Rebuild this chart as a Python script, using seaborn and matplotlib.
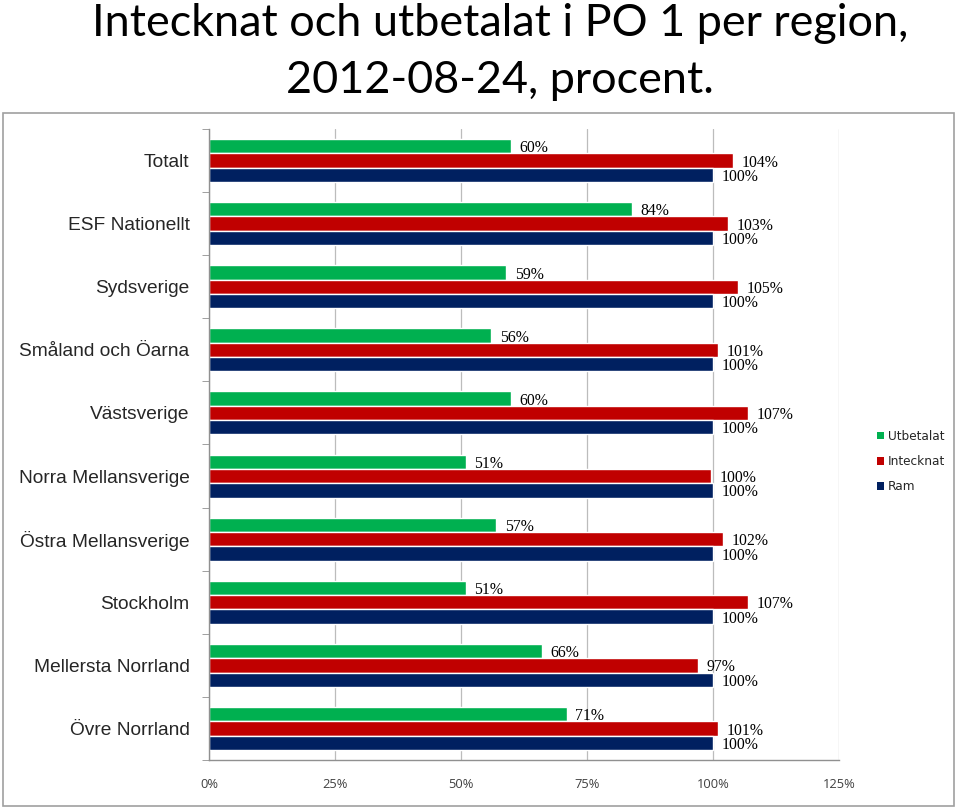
import pandas as pd
import numpy as np
import matplotlib
matplotlib.use("Agg")
import matplotlib.pyplot as plt
import seaborn as sns
from matplotlib.patches import Rectangle, Patch
from matplotlib.ticker import FixedLocator

# ── Data ──────────────────────────────────────────────────────────────────────
regions = ["Totalt", "ESF Nationellt", "Sydsverige", "Småland och Öarna",
           "Västsverige", "Norra Mellansverige", "Östra Mellansverige",
           "Stockholm", "Mellersta Norrland", "Övre Norrland"]
utbetalat = [60, 84, 59, 56, 60, 51, 57, 51, 66, 71]
intecknat = [104, 103, 105, 101, 107, 99.7, 102, 107, 97, 101]
ram = [100, 100, 100, 100, 100, 100, 100, 100, 100, 100]

series = ["Utbetalat", "Intecknat", "Ram"]
colors = ["#00b050", "#c00000", "#002060"]
x_ticks = [0, 25, 50, 75, 100, 125]
title_lines = ["Intecknat och utbetalat i PO 1 per region,", "2012-08-24, procent."]

df = pd.DataFrame({"region": regions * 3,
                   "serie": [s for s in series for _ in regions],
                   "value": utbetalat + intecknat + ram})

# ── Figure ────────────────────────────────────────────────────────────────────
sns.set_style("white")
W, H = 959, 809
fig = plt.figure(figsize=(W / 100, H / 100), dpi=100)
ax = fig.add_axes([209 / W, 1 - 760 / H, (839 - 209) / W, (760 - 129) / H])

sns.barplot(data=df, y="region", x="value", hue="serie", order=regions,
            hue_order=series, palette=colors, orient="h", width=0.68,
            saturation=1, ax=ax, legend=False, errorbar=None)

for cont in ax.containers:
    anns = ax.bar_label(cont, labels=[f"{v:.0f}%" for v in cont.datavalues], padding=6,
                        fontsize=11.3, family="Liberation Serif", color="black")
    for a in anns:
        a.xyann = (6, -1.5)  # Excel puts the labels a touch lower

ax.set_xlim(0, 125)
ax.set_ylim(len(regions) - 0.5, -0.5)
ax.set_xticks(x_ticks)
ax.set_xticklabels([f"{t}%" for t in x_ticks], fontsize=9.3, family="Open Sans", color="#404040")
ax.xaxis.grid(True, color="#bcbcbc", linewidth=0.9)
ax.set_axisbelow(True)
ax.tick_params(axis="x", length=5, color="#909090", pad=8)

ax.yaxis.set_minor_locator(FixedLocator(np.arange(-0.5, len(regions), 1)))
ax.tick_params(axis="y", which="major", length=0, pad=14, labelsize=13.8)
ax.tick_params(axis="y", which="minor", length=5, color="#909090", left=True)
for lab in ax.get_yticklabels():
    lab.set_family("Liberation Sans")
ax.set_xlabel("")
ax.set_ylabel("")

for side in ["top", "right"]:
    ax.spines[side].set_visible(False)
for side in ["left", "bottom"]:
    ax.spines[side].set_color("#909090")
    ax.spines[side].set_linewidth(1)

# legend
handles = [Patch(facecolor=c, edgecolor="none") for c in colors]
fig.legend(handles, series, loc="upper left", bbox_to_anchor=(866 / W, 1 - 419 / H),
           frameon=False, handlelength=0.6, handleheight=0.6, handletextpad=0.3,
           labelspacing=1.0, prop={"family": "DejaVu Sans", "size": 8.7})

# outer chart frame
fig.patches.append(Rectangle((3 / W, 1 - 806 / H), (954 - 3) / W, (806 - 113) / H,
                             transform=fig.transFigure, fill=False,
                             edgecolor="#a0a0a0", linewidth=1.2))

# title, two lines placed separately for Excel-like line spacing
for line, base in zip(title_lines, [36, 93]):
    fig.text(500 / W, 1 - base / H, line, ha="center", va="baseline",
             fontsize=32.4, family="Lato", color="black")

fig.savefig("out.png", dpi=100)
